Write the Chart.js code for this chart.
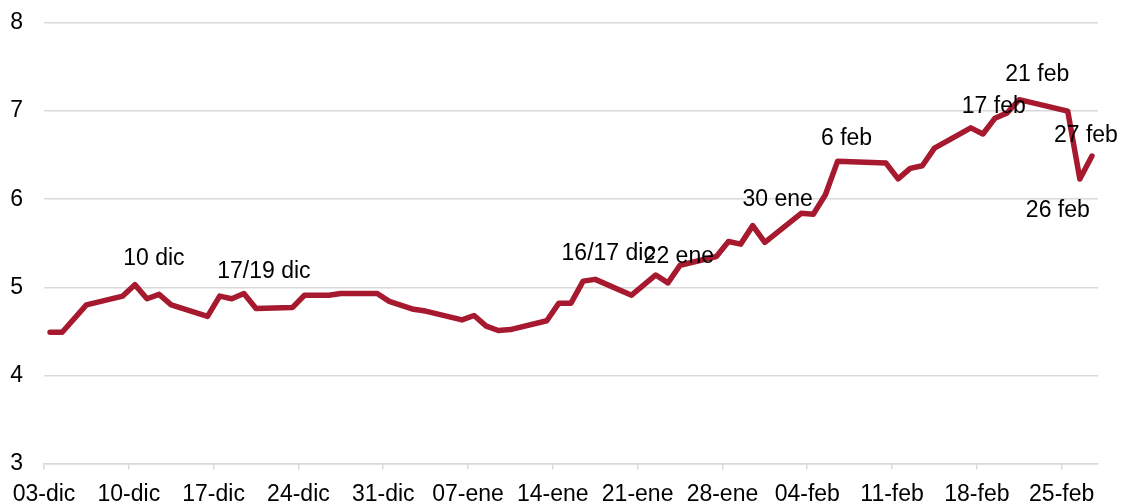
<!DOCTYPE html>
<html>
<head>
<meta charset="utf-8">
<script src="https://cdn.jsdelivr.net/npm/chart.js@4/dist/chart.umd.min.js"></script>
<style>
  html, body { margin: 0; padding: 0; background: #fff; }
  #wrap { position: relative; width: 1124px; height: 503px; }
</style>
</head>
<body>
<div id="wrap"><canvas id="chart"></canvas></div>
<script>
// daily series
const dates = [
  '2023-12-03', '2023-12-04', '2023-12-06', '2023-12-09', '2023-12-10', '2023-12-11',
  '2023-12-12', '2023-12-13', '2023-12-16', '2023-12-17', '2023-12-18', '2023-12-19',
  '2023-12-20', '2023-12-23', '2023-12-24', '2023-12-26', '2023-12-27', '2023-12-30',
  '2023-12-31', '2024-01-02', '2024-01-03', '2024-01-06', '2024-01-07', '2024-01-08',
  '2024-01-09', '2024-01-10', '2024-01-13', '2024-01-14', '2024-01-15', '2024-01-16',
  '2024-01-17', '2024-01-20', '2024-01-22', '2024-01-23', '2024-01-24', '2024-01-27',
  '2024-01-28', '2024-01-29', '2024-01-30', '2024-01-31', '2024-02-03', '2024-02-04',
  '2024-02-05', '2024-02-06', '2024-02-10', '2024-02-11', '2024-02-12', '2024-02-13',
  '2024-02-14', '2024-02-17', '2024-02-18', '2024-02-19', '2024-02-20', '2024-02-21',
  '2024-02-25', '2024-02-26', '2024-02-27'
];
const values = [
  4.49, 4.49, 4.80, 4.90, 5.03, 4.87,
  4.92, 4.80, 4.67, 4.90, 4.87, 4.93,
  4.76, 4.77, 4.91, 4.91, 4.93, 4.93,
  4.84, 4.75, 4.73, 4.63, 4.68, 4.56,
  4.51, 4.52, 4.62, 4.82, 4.82, 5.07,
  5.09, 4.91, 5.14, 5.05, 5.25, 5.35,
  5.52, 5.49, 5.70, 5.51, 5.84, 5.83,
  6.05, 6.43, 6.41, 6.23, 6.35, 6.38,
  6.58, 6.81, 6.74, 6.92, 6.98, 7.13,
  7.00, 6.23, 6.49
];

// weekly axis labels, starting on the first date
const tickLabels = [
  '03-dic', '10-dic', '17-dic', '24-dic', '31-dic', '07-ene', '14-ene',
  '21-ene', '28-ene', '04-feb', '11-feb', '18-feb', '25-feb'
];

// callouts on individual days
const noteDates = [
  '2023-12-10', '2023-12-19', '2024-01-17', '2024-01-22', '2024-01-30',
  '2024-02-06', '2024-02-17', '2024-02-21', '2024-02-26', '2024-02-27'
];
const noteTexts = [
  '10 dic', '17/19 dic', '16/17 dic', '22 ene', '30 ene',
  '6 feb', '17 feb', '21 feb', '26 feb', '27 feb'
];

const FONT = '"Liberation Sans", Arial, Helvetica, sans-serif';
const RED = '#A6192E';
const GRID = '#D9D9D9';

const start = Date.UTC(2023, 11, 3);
const dayOf = s => {
  const [y, m, d] = s.split('-').map(Number);
  return Math.round((Date.UTC(y, m - 1, d) - start) / 864e5);
};
// each day is drawn in the middle of its slot
const points = dates.map((d, i) => ({ x: dayOf(d) + 0.5, y: values[i] }));

// label offsets (px) from the point they describe
const noteOffsets = [
  [19, -20], [20, -15], [13, -19], [23, -12], [25, -20],
  [9, -16], [23, -15], [18, -19], [-22, 38], [-6, -14]
];

const callouts = {
  id: 'callouts',
  afterDatasetsDraw(chart) {
    const { ctx } = chart;
    const meta = chart.getDatasetMeta(0);
    ctx.save();
    ctx.font = '23px ' + FONT;
    ctx.fillStyle = '#000';
    ctx.textAlign = 'center';
    ctx.textBaseline = 'alphabetic';
    noteDates.forEach((d, i) => {
      const el = meta.data[dates.indexOf(d)];
      if (!el) return;
      ctx.fillText(noteTexts[i], el.x + noteOffsets[i][0], el.y + noteOffsets[i][1]);
    });
    ctx.restore();
  }
};

new Chart(document.getElementById('chart'), {
  type: 'line',
  data: {
    datasets: [{
      data: points,
      borderColor: RED,
      borderWidth: 5.5,
      borderJoinStyle: 'round',
      borderCapStyle: 'round',
      pointRadius: 0,
      tension: 0,
      fill: false
    }]
  },
  options: {
    responsive: true,
    maintainAspectRatio: false,
    animation: false,
    layout: { padding: { left: 9, right: 26, top: 23, bottom: 0 } },
    plugins: {
      legend: { display: false },
      tooltip: { enabled: false }
    },
    scales: {
      x: {
        type: 'linear',
        min: 0,
        max: 87,
        afterFit: s => { s.height = 39.5; s.paddingLeft = 0; s.paddingRight = 0; },
        border: { display: true, color: GRID, width: 1.5 },
        grid: {
          drawOnChartArea: false,
          drawTicks: true,
          tickLength: 6,
          tickColor: GRID,
          lineWidth: 1.5
        },
        ticks: {
          stepSize: 7,
          includeBounds: false,
          autoSkip: false,
          maxRotation: 0,
          padding: 11,
          color: '#000',
          font: { family: FONT, size: 23 },
          callback: v => tickLabels[Math.round(v / 7)] || ''
        }
      },
      y: {
        min: 3,
        max: 8,
        afterFit: s => { s.width = 35; s.paddingTop = 0; s.paddingBottom = 0; },
        border: { display: false },
        grid: { color: GRID, lineWidth: 1.5, drawTicks: false },
        ticks: {
          stepSize: 1,
          padding: 21,
          color: '#000',
          font: { family: FONT, size: 23 }
        }
      }
    }
  },
  plugins: [callouts]
});
</script>
</body>
</html>
